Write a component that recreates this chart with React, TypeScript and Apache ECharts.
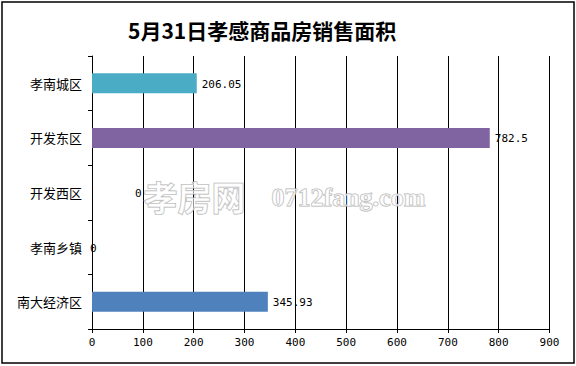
import React, { useEffect, useRef } from "react";
import * as echarts from "echarts";

const titleText = "5月31日孝感商品房销售面积";
const categories = ["孝南城区", "开发东区", "开发西区", "孝南乡镇", "南大经济区"];
const values = [206.05, 782.5, 0, 0, 345.93];
const barColors = ["#4BACC6", "#8064A2", "#C0504D", "#9BBB59", "#4F81BD"];
const labelOffsets = [0, 0, 38, -7, 0];
const xTicks = { min: 0, max: 900, interval: 100 };

export default function App() {
  const ref = useRef<HTMLDivElement>(null);
  useEffect(() => {
    if (!ref.current) return;
    const chart = echarts.init(ref.current, undefined, { renderer: "svg" });
    chart.setOption({
      animation: false,
      backgroundColor: "#ffffff",
      title: {
        text: titleText,
        left: 123,
        top: 14,
        textStyle: {
          fontSize: 21,
          fontWeight: "bold",
          color: "#000",
          fontFamily: "Noto Sans CJK SC",
        },
      },
      grid: { left: 92, right: 26.5, top: 56, bottom: 37, containLabel: false },
      xAxis: {
        type: "value",
        min: xTicks.min,
        max: xTicks.max,
        interval: xTicks.interval,
        axisLine: { show: true, lineStyle: { color: "#000", width: 1 } },
        axisTick: { show: true, length: 4, lineStyle: { color: "#000" } },
        splitLine: { show: true, lineStyle: { color: "#000", width: 1 } },
        axisLabel: {
          color: "#000",
          fontSize: 11,
          margin: 8,
          fontFamily: "DejaVu Sans Mono",
        },
      },
      yAxis: {
        type: "category",
        inverse: true,
        data: categories,
        axisLine: { show: true, lineStyle: { color: "#000", width: 1 } },
        axisTick: { show: true, length: 4, lineStyle: { color: "#000" } },
        axisLabel: {
          color: "#000",
          fontSize: 13,
          margin: 10,
          fontFamily: "Noto Sans CJK SC",
        },
      },
      series: [
        {
          type: "bar",
          barWidth: 20,
          data: values.map((v, i) => ({
            value: v,
            itemStyle: { color: barColors[i] },
            label: { offset: [labelOffsets[i], 1] },
          })),
          label: {
            show: true,
            position: "right",
            distance: 5,
            color: "#000",
            fontSize: 11,
            fontFamily: "DejaVu Sans Mono",
          },
        },
      ],
      graphic: [
        {
          type: "text",
          z: 100,
          left: 143,
          top: 179,
          style: {
            text: "孝房网",
            fontSize: 34,
            fontWeight: "bold",
            fontFamily: "Noto Sans CJK SC",
            fill: "rgba(255,255,255,0.6)",
            stroke: "#b0b0b0",
            lineWidth: 1,
          },
        },
        {
          type: "text",
          z: 100,
          left: 271,
          top: 184,
          style: {
            text: "0712fang.com",
            fontSize: 26,
            fontWeight: "bold",
            fontFamily: "Liberation Serif",
            fill: "rgba(255,255,255,0.6)",
            stroke: "#b0b0b0",
            lineWidth: 1,
          },
        },
        {
          type: "rect",
          z: 100,
          shape: { x: 2, y: 2, width: 572, height: 361 },
          style: { fill: "none", stroke: "#000", lineWidth: 1.5 },
        },
      ],
    });
    return () => chart.dispose();
  }, []);
  return (
    <div
      ref={ref}
      style={{ position: "fixed", left: 0, top: 0, width: 576, height: 366 }}
    />
  );
}
